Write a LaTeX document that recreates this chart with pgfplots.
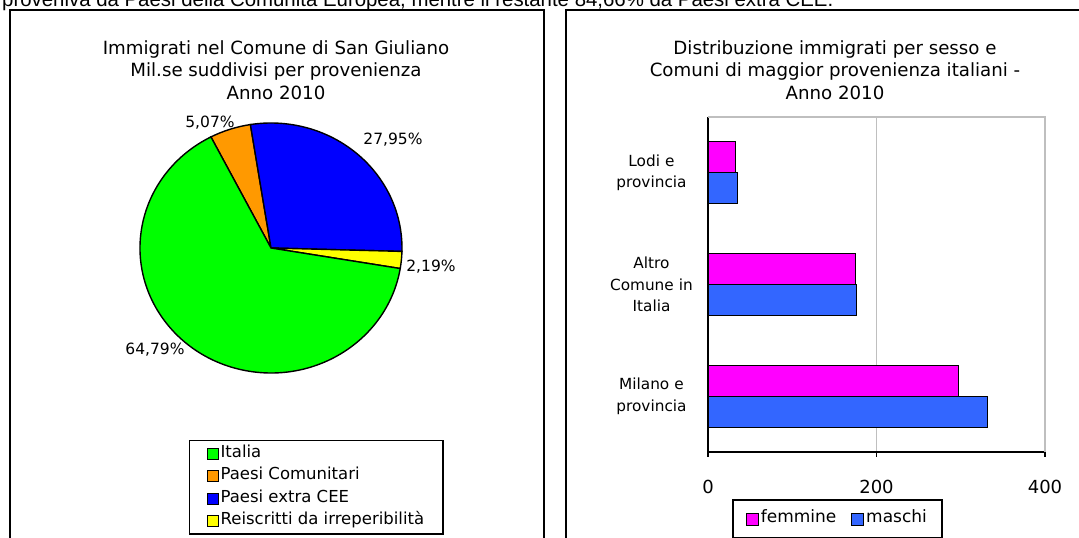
\documentclass[border=0pt]{standalone}
\usepackage{fontspec}
\setmainfont{DejaVu Sans}
\newfontfamily\arialfont{Liberation Sans}
\usepackage{pgfplots}
\usepackage{pgfplotstable}
\pgfplotsset{compat=1.18}

\definecolor{pieGreen}{HTML}{00FF00}
\definecolor{pieOrange}{HTML}{FF9900}
\definecolor{pieBlue}{HTML}{0000FF}
\definecolor{pieYellow}{HTML}{FFFF00}
\definecolor{barMag}{HTML}{FF00FF}
\definecolor{barBlue}{HTML}{3366FF}

% provenienza (percentuali)
\pgfplotstableread{
name value
Italia 64.79
Comunitari 5.07
Extra 27.95
Reiscritti 2.19
}\piedata

% 0 = Milano e provincia, 1 = Altro Comune in Italia, 2 = Lodi e provincia
\pgfplotstableread{
cat femmine maschi
0 297 332
1 175 176
2 33 35
}\bardata

\begin{document}
\begin{tikzpicture}[x=1bp,y=1bp]
\useasboundingbox (0,0) rectangle (1079,538);
\clip (0,0) rectangle (1079,538);

% text line of the page, cut at the top
\node[anchor=base west, inner sep=0, font=\arialfont\fontsize{20.4bp}{24bp}\selectfont] at (2,531)
  {proveniva da Paesi della Comunità Europea, mentre il restante 84,66\% da Paesi extra CEE.};

% panel frames
\draw[line width=1.6bp] (10,-5) -- (10,528) -- (544,528) -- (544,-5);
\draw[line width=1.6bp] (566,-5) -- (566,528) -- (1090,528);

% pie angles from data
\pgfplotstablegetelem{0}{value}\of\piedata \pgfmathsetmacro\vA{\pgfplotsretval}
\pgfplotstablegetelem{1}{value}\of\piedata \pgfmathsetmacro\vB{\pgfplotsretval}
\pgfplotstablegetelem{2}{value}\of\piedata \pgfmathsetmacro\vC{\pgfplotsretval}
\pgfplotstablegetelem{3}{value}\of\piedata \pgfmathsetmacro\vD{\pgfplotsretval}
\pgfmathsetmacro\aO{117.3}
\pgfmathsetmacro\aB{\aO-3.6*\vB}
\pgfmathsetmacro\aC{\aB-3.6*\vC}
\pgfmathsetmacro\aD{\aC-3.6*\vD}
\pgfmathsetmacro\aE{\aD-3.6*\vA}

% titles
\node[align=center, font=\fontsize{18.2bp}{22.5bp}\selectfont] at (276,468)
  {Immigrati nel Comune di San Giuliano\\Mil.se suddivisi per provenienza\\Anno 2010};
\node[align=center, font=\fontsize{18.2bp}{22.5bp}\selectfont] at (835,468)
  {Distribuzione immigrati per sesso e\\Comuni di maggior provenienza italiani -\\Anno 2010};

\begin{axis}[at={(121bp,140bp)}, anchor=south west,
  x=1bp, y=1bp, xmin=-150, xmax=150, ymin=-150, ymax=150,
  hide axis, clip=false,
  legend style={at={(axis description cs:0.2267,-0.14)}, anchor=north west,
    draw=black, line width=1.4bp, font=\fontsize{16.5bp}{18bp}\selectfont,
    inner xsep=17bp, inner ysep=4bp, row sep=4.5bp,
    nodes={text height=10.5bp, text depth=3.5bp, inner ysep=2bp, inner xsep=2bp}},
  legend cell align=left,
  legend image code/.code={\draw[#1, draw=black, line width=0.9bp] (0bp,-5.5bp) rectangle (11bp,5.5bp);},
]
\filldraw[fill=pieOrange, draw=black, line width=1.4bp] (0,0) -- ({131*cos(\aO)},{125*sin(\aO)})
  arc[start angle=\aO, end angle=\aB, x radius=131bp, y radius=125bp] -- cycle;
\filldraw[fill=pieBlue, draw=black, line width=1.4bp] (0,0) -- ({131*cos(\aB)},{125*sin(\aB)})
  arc[start angle=\aB, end angle=\aC, x radius=131bp, y radius=125bp] -- cycle;
\filldraw[fill=pieYellow, draw=black, line width=1.4bp] (0,0) -- ({131*cos(\aC)},{125*sin(\aC)})
  arc[start angle=\aC, end angle=\aD, x radius=131bp, y radius=125bp] -- cycle;
\filldraw[fill=pieGreen, draw=black, line width=1.4bp] (0,0) -- ({131*cos(\aD)},{125*sin(\aD)})
  arc[start angle=\aD, end angle=\aE, x radius=131bp, y radius=125bp] -- cycle;
\node[font=\fontsize{15.5bp}{18bp}\selectfont] at (-61,125) {5,07\%};
\node[font=\fontsize{15.5bp}{18bp}\selectfont] at (122,108) {27,95\%};
\node[font=\fontsize{15.5bp}{18bp}\selectfont] at (160,-19) {2,19\%};
\node[font=\fontsize{15.5bp}{18bp}\selectfont] at (-116,-102) {64,79\%};
\addlegendimage{fill=pieGreen}
\addlegendentry{Italia}
\addlegendimage{fill=pieOrange}
\addlegendentry{Paesi Comunitari}
\addlegendimage{fill=pieBlue}
\addlegendentry{Paesi extra CEE}
\addlegendimage{fill=pieYellow}
\addlegendentry{Reiscritti da irreperibilità}
\end{axis}

\begin{axis}[at={(708bp,86bp)}, anchor=south west,
  width=337bp, height=335bp, scale only axis,
  xbar, bar width=31bp,
  xmin=0, xmax=400, ymin=-0.5, ymax=2.5,
  axis x line*=bottom, axis y line*=left,
  axis line style={black, line width=1.4bp},
  xtick={0,200,400}, ytick={0,1,2},
  yticklabels={{Milano e\\provincia},{Altro\\Comune in\\Italia},{Lodi e\\provincia}},
  yticklabel style={align=center, text width=90bp, xshift=-3bp,
    font=\fontsize{15.3bp}{21.5bp}\selectfont},
  ytick style={draw=none},
  xtick style={black, line width=1.4bp},
  tick align=outside, major tick length=5bp,
  xticklabel style={font=\fontsize{18bp}{20bp}\selectfont, yshift=-20bp},
  /pgf/number format/assume math mode=true,
  xmajorgrids, grid style={black!25, line width=1.2bp},
  legend style={at={(axis description cs:0.384,-0.2)}, anchor=center,
    draw=black, line width=1.4bp, font=\fontsize{17bp}{18bp}\selectfont,
    legend columns=2, inner xsep=13bp, inner ysep=9bp,
    nodes={text height=12bp, text depth=4bp, inner xsep=2bp, inner ysep=2bp},
    /tikz/every even column/.append style={column sep=13bp}},
  legend image code/.code={\draw[#1, draw=black, line width=0.9bp] (0bp,-6bp) rectangle (12bp,6bp);},
  clip=false,
]
\draw[black!25, line width=1.2bp] (rel axis cs:0,1) -- (rel axis cs:1,1) -- (rel axis cs:1,0);
\addplot[fill=barMag, draw=black, line width=1.3bp, bar shift=15.5bp] table[x=femmine, y=cat] {\bardata};
\addlegendentry{femmine}
\addplot[fill=barBlue, draw=black, line width=1.3bp, bar shift=-15.5bp] table[x=maschi, y=cat] {\bardata};
\addlegendentry{maschi}
\end{axis}
\end{tikzpicture}
\end{document}
